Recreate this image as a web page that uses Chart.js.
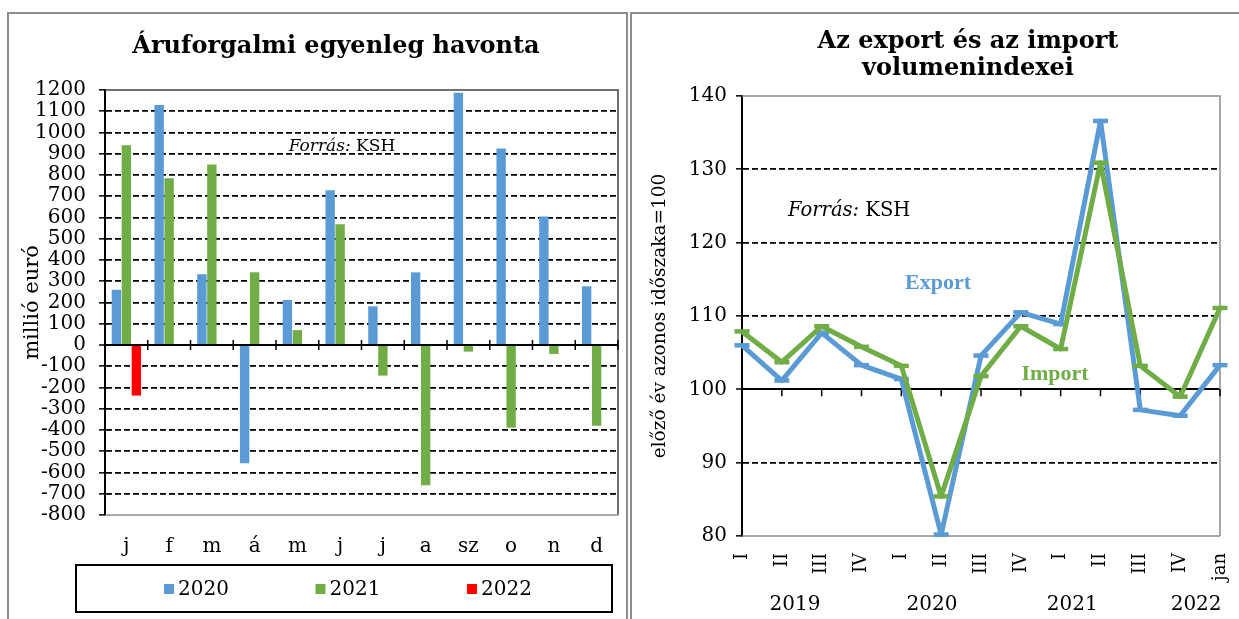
<!DOCTYPE html>
<html lang="hu">
<head>
<meta charset="utf-8">
<title>Áruforgalmi egyenleg és volumenindexek</title>
<script src="https://cdn.jsdelivr.net/npm/chart.js"></script>
<style>
  html, body { margin: 0; padding: 0; background: #fff; }
  body { width: 1239px; height: 619px; position: relative; overflow: hidden; }
  .frame { position: absolute; top: 12px; height: 640px; border: 2px solid #8c8c8c; box-sizing: border-box; }
  #frameLeft { left: 7px; width: 621px; }
  #frameRight { left: 630px; width: 640px; }
  .box { position: absolute; top: 14px; height: 605px; }
  #boxLeft { left: 10px; width: 615px; }
  #boxRight { left: 632px; width: 607px; }
</style>
</head>
<body>
<div class="frame" id="frameLeft"></div>
<div class="frame" id="frameRight"></div>
<div class="box" id="boxLeft"><canvas id="balance"></canvas></div>
<div class="box" id="boxRight"><canvas id="volume"></canvas></div>

<script>
// havi egyenleg, millió euró
const months = ['j', 'f', 'm', 'á', 'm', 'j', 'j', 'a', 'sz', 'o', 'n', 'd'];
const balance2020 = [260, 1130, 333, -557, 212, 728, 182, 342, 1187, 925, 605, 276];
const balance2021 = [940, 785, 850, 342, 70, 568, -144, -660, -31, -389, -42, -380];
const balance2022 = [-238, null, null, null, null, null, null, null, null, null, null, null];

// volumenindexek, előző év azonos időszaka = 100
const quarters = ['I', 'II', 'III', 'IV', 'I', 'II', 'III', 'IV', 'I', 'II', 'III', 'IV', 'jan'];
const years = ['2019', '2020', '2021', '2022'];
const exportIndex = [106.0, 101.2, 107.7, 103.3, 101.4, 80.2, 104.6, 110.5, 108.9, 136.6, 97.2, 96.4, 103.3];
const importIndex = [107.9, 103.7, 108.6, 105.8, 103.2, 85.4, 101.8, 108.6, 105.5, 130.9, 103.2, 99.0, 111.1];

const BLUE = '#5B9BD5';
const GREEN = '#70AD47';
const RED = '#FF0000';
const serif = '"DejaVu Serif", serif';

Chart.defaults.color = '#000';
Chart.defaults.font.family = serif;

function drawSource(ctx, x, y, size) {
  // "Forrás:" dőlt, "KSH" álló betűvel
  ctx.textBaseline = 'middle';
  ctx.textAlign = 'left';
  ctx.font = `italic ${size}px ${serif}`;
  const w = ctx.measureText('Forrás:').width;
  ctx.font = `${size}px ${serif}`;
  const full = w + ctx.measureText(' KSH').width;
  const x0 = x - full / 2;
  ctx.font = `italic ${size}px ${serif}`;
  ctx.fillText('Forrás:', x0, y);
  ctx.font = `${size}px ${serif}`;
  ctx.fillText(' KSH', x0 + w, y);
}

function drawFrame(ctx, a, topColor) {
  ctx.save();
  ctx.lineWidth = 1.5;
  ctx.strokeStyle = topColor;
  ctx.beginPath();
  ctx.moveTo(a.left, a.top);
  ctx.lineTo(a.right, a.top);
  ctx.lineTo(a.right, a.bottom);
  ctx.stroke();
  ctx.strokeStyle = '#8c8c8c';
  ctx.beginPath();
  ctx.moveTo(a.right, a.bottom);
  ctx.lineTo(a.left, a.bottom);
  ctx.stroke();
  ctx.restore();
}

const balanceDecor = {
  id: 'balanceDecor',
  beforeDatasetsDraw(chart) {
    drawFrame(chart.ctx, chart.chartArea, '#404040');
  },
  afterDatasetsDraw(chart) {
    const { ctx, chartArea: a, scales: { x, y } } = chart;
    const y0 = y.getPixelForValue(0);
    ctx.save();
    ctx.strokeStyle = '#000';
    ctx.lineWidth = 2;
    ctx.beginPath();
    ctx.moveTo(a.left, y0);
    ctx.lineTo(a.right, y0);
    ctx.stroke();
    // osztásjelek a hónapok határán
    ctx.lineWidth = 1.5;
    ctx.beginPath();
    for (let i = 1; i <= months.length; i++) {
      const xb = i === months.length ? a.right : (x.getPixelForValue(i - 1) + x.getPixelForValue(i)) / 2;
      ctx.moveTo(xb, y0 - 5);
      ctx.lineTo(xb, y0 + 5);
    }
    ctx.stroke();
    ctx.restore();
  },
  afterDraw(chart) {
    const { ctx } = chart;
    ctx.save();
    ctx.fillStyle = '#000';
    ctx.textAlign = 'center';
    ctx.textBaseline = 'middle';
    ctx.font = `bold 24px ${serif}`;
    ctx.fillText('Áruforgalmi egyenleg havonta', 326, 33);
    drawSource(ctx, 332, 133, 17);

    // jelmagyarázat keretben
    ctx.lineWidth = 2;
    ctx.strokeStyle = '#000';
    ctx.strokeRect(66, 551, 536, 47);
    ctx.font = `20px ${serif}`;
    ctx.textAlign = 'left';
    chart.data.datasets.forEach((ds, i) => {
      const bx = 154 + i * 151.5;
      ctx.fillStyle = ds.backgroundColor;
      ctx.fillRect(bx, 570, 10, 10);
      ctx.fillStyle = '#000';
      ctx.fillText(ds.label, bx + 14, 576);
    });
    ctx.restore();
  }
};

new Chart(document.getElementById('balance'), {
  type: 'bar',
  data: {
    labels: months,
    datasets: [
      { label: '2020', data: balance2020, backgroundColor: BLUE },
      { label: '2021', data: balance2021, backgroundColor: GREEN },
      { label: '2022', data: balance2022, backgroundColor: RED }
    ]
  },
  options: {
    responsive: true,
    maintainAspectRatio: false,
    animation: false,
    layout: { padding: { top: 76, right: 7, left: 0, bottom: 0 } },
    datasets: { bar: { categoryPercentage: 0.7, barPercentage: 0.94 } },
    plugins: { legend: { display: false }, tooltip: { enabled: false } },
    scales: {
      x: {
        grid: { display: false },
        border: { display: false },
        ticks: { font: { size: 20 }, padding: 12, maxRotation: 0 },
        afterFit: s => { s.height = 104; }
      },
      y: {
        min: -800,
        max: 1200,
        ticks: { stepSize: 100, font: { size: 20 }, padding: 13, autoSkip: false, callback: v => String(v) },
        grid: {
          color: c => (c.tick.value === 1200 || c.tick.value === -800) ? 'rgba(0,0,0,0)' : '#000',
          lineWidth: c => c.tick.value === 0 ? 2 : 1.7,
          tickLength: 6,
          tickColor: '#000',
          tickWidth: 1.5,
          tickBorderDash: []
        },
        border: { color: '#000', width: 2, dash: c => (c.tick && c.tick.value === 0) ? [] : [6, 3] },
        title: { display: true, text: 'millió euró', font: { size: 21 }, padding: { top: 10, bottom: 0 } },
        afterFit: s => { s.width = 95; }
      }
    }
  },
  plugins: [balanceDecor]
});

const volumeDecor = {
  id: 'volumeDecor',
  beforeDatasetsDraw(chart) {
    const { ctx, chartArea: a, scales: { x, y } } = chart;
    drawFrame(ctx, a, '#8c8c8c');
    const y100 = y.getPixelForValue(100);
    ctx.save();
    ctx.strokeStyle = '#000';
    ctx.lineWidth = 1.5;
    ctx.beginPath();
    for (let i = 1; i < quarters.length; i++) {
      const xp = x.getPixelForValue(i);
      ctx.moveTo(xp, y100);
      ctx.lineTo(xp, y100 + 7);
    }
    ctx.stroke();
    ctx.restore();
  },
  afterDraw(chart) {
    const { ctx, scales: { x, y } } = chart;
    ctx.save();
    ctx.fillStyle = '#000';
    ctx.textAlign = 'center';
    ctx.textBaseline = 'middle';
    ctx.font = `bold 24px ${serif}`;
    ctx.fillText('Az export és az import', 336, 28);
    ctx.fillText('volumenindexei', 336, 55);

    drawSource(ctx, x.getPixelForValue(2.69), y.getPixelForValue(124.3), 19.5);

    ctx.textAlign = 'center';
    ctx.font = 'bold 22px "Liberation Serif", serif';
    ctx.fillStyle = BLUE;
    ctx.fillText('Export', x.getPixelForValue(4.92), y.getPixelForValue(114.4));
    ctx.fillStyle = GREEN;
    ctx.fillText('Import', x.getPixelForValue(7.86), y.getPixelForValue(102.1));

    // évek a negyedévek alatt
    ctx.fillStyle = '#000';
    ctx.font = `20px ${serif}`;
    const yearAt = [1.33, 4.77, 8.29, 11.4];
    years.forEach((yr, i) => {
      ctx.fillText(yr, x.getPixelForValue(yearAt[i]), 591);
    });
    ctx.restore();
  }
};

new Chart(document.getElementById('volume'), {
  type: 'line',
  data: {
    labels: quarters,
    datasets: [
      {
        label: 'Export', data: exportIndex, order: 2,
        borderColor: BLUE, backgroundColor: BLUE, borderWidth: 5, borderJoinStyle: 'round',
        pointStyle: 'line', pointRadius: 7.5, pointBorderWidth: 4.5, pointBorderColor: BLUE,
        tension: 0, clip: false
      },
      {
        label: 'Import', data: importIndex, order: 1,
        borderColor: GREEN, backgroundColor: GREEN, borderWidth: 5, borderJoinStyle: 'round',
        pointStyle: 'line', pointRadius: 7.5, pointBorderWidth: 4.5, pointBorderColor: GREEN,
        tension: 0, clip: false
      }
    ]
  },
  options: {
    responsive: true,
    maintainAspectRatio: false,
    animation: false,
    layout: { padding: { top: 82, right: 19, left: 0, bottom: 0 } },
    plugins: { legend: { display: false }, tooltip: { enabled: false } },
    scales: {
      x: {
        offset: false,
        grid: { display: false },
        border: { display: false },
        ticks: { font: { size: 18 }, padding: 9, minRotation: 90, maxRotation: 90, autoSkip: false },
        afterFit: s => { s.height = 83; s.paddingLeft = 0; s.paddingRight = 0; }
      },
      y: {
        min: 80,
        max: 140,
        ticks: { stepSize: 10, font: { size: 20 }, padding: 9 },
        grid: {
          color: c => (c.tick.value === 80 || c.tick.value === 140) ? 'rgba(0,0,0,0)' : '#000',
          lineWidth: c => c.tick.value === 100 ? 2 : 1.7,
          tickLength: 6,
          tickColor: '#000',
          tickWidth: 1.5,
          tickBorderDash: []
        },
        border: { color: '#000', width: 2, dash: c => (c.tick && c.tick.value === 100) ? [] : [6, 3] },
        title: { display: true, text: 'előző év azonos időszaka=100', font: { size: 18.5 }, padding: { top: 17, bottom: 0 } },
        afterFit: s => { s.width = 110; }
      }
    }
  },
  plugins: [volumeDecor]
});
</script>
</body>
</html>
